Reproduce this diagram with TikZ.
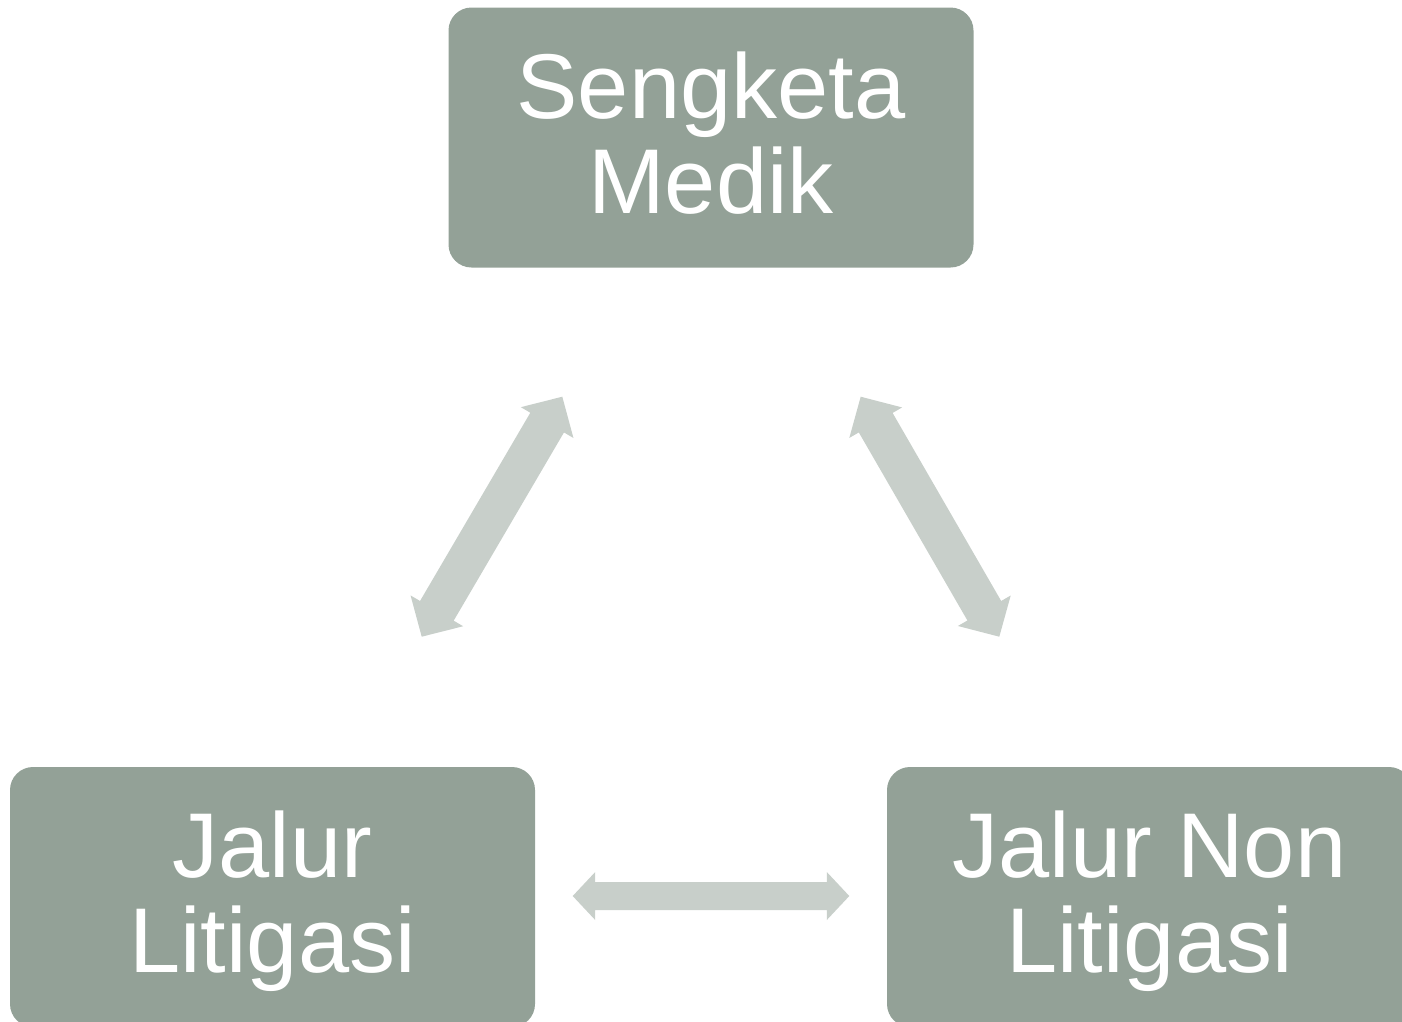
\documentclass[tikz,border=0pt]{standalone}
\usepackage{fontspec}
\setmainfont{Liberation Sans}
\usetikzlibrary{calc}
\definecolor{boxgreen}{RGB}{147,161,151}
\definecolor{arrowgray}{RGB}{200,207,202}
% #1 tip A, #2 tip B, #3 head length, #4 half head width, #5 half shaft width
\newcommand\dblarrow[5]{%
  \path ($(#1)!#3!(#2)$) coordinate (pa) ($(#2)!#3!(#1)$) coordinate (pb);
  \fill[arrowgray] (#1) -- ($(pa)!#4!90:(#1)$) -- ($(pa)!#5!90:(#1)$)
    -- ($(pb)!#5!-90:(#2)$) -- ($(pb)!#4!-90:(#2)$) -- (#2)
    -- ($(pb)!#4!90:(#2)$) -- ($(pb)!#5!90:(#2)$)
    -- ($(pa)!#5!-90:(#1)$) -- ($(pa)!#4!-90:(#1)$) -- cycle;}
\tikzset{
  box/.style={fill=boxgreen, rounded corners=23pt, minimum width=525pt,
    minimum height=260pt, inner sep=0pt, outer sep=0pt},
  lbl/.style={text=white, inner sep=0pt, anchor=base,
    font=\fontsize{92}{95}\selectfont}
}
\begin{document}
\begin{tikzpicture}[x=1pt,y=-1pt]
\useasboundingbox (0,0) rectangle (1402,1021);
\clip (0,0) rectangle (1402,1021);
% boxes
\node[box] (top) at (711,137.5) {};
\node[box] (left) at (272.5,897) {};
\node[box] (right) at (1149.5,897) {};
% labels
\node[lbl] (topa) at (711,118.3) {Sengketa};
\node[lbl] (topb) at (711,213.3) {Medik};
\node[lbl] (lefta) at (272.5,877.8) {Jalur};
\node[lbl] (leftb) at (272.5,972.8) {Litigasi};
\node[lbl] (righta) at (1149.5,877.8) {Jalur Non};
\node[lbl] (rightb) at (1149.5,972.8) {Litigasi};
% arrow end coordinates
\coordinate (l1) at (421.7,636.7);
\coordinate (l2) at (562.3,396.7);
\coordinate (r1) at (860.7,396.7);
\coordinate (r2) at (999.3,636.7);
\coordinate (h1) at (572.7,896);
\coordinate (h2) at (849.3,896);
\dblarrow{l1}{l2}{30pt}{30.5pt}{19.5pt}
\dblarrow{r1}{r2}{30pt}{30.5pt}{19.5pt}
\dblarrow{h1}{h2}{22.5pt}{24pt}{14pt}
\end{tikzpicture}
\end{document}
